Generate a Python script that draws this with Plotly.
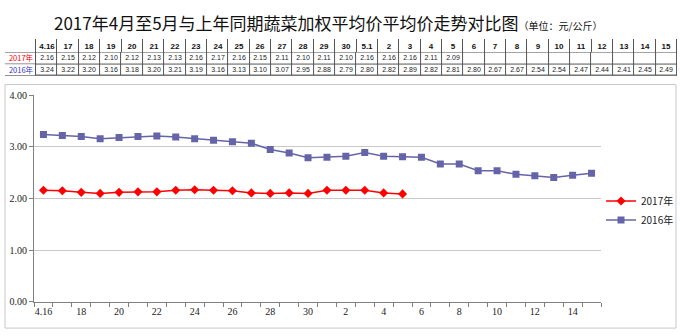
import plotly.graph_objects as go

# Trading days: 16 April to 15 May
days = ["4.16", "17", "18", "19", "20", "21", "22", "23", "24", "25", "26", "27",
        "28", "29", "30", "5.1", "2", "3", "4", "5", "6", "7", "8", "9", "10",
        "11", "12", "13", "14", "15"]

# Weighted average vegetable price (yuan/kg)
price_2017 = [2.16, 2.15, 2.12, 2.10, 2.12, 2.13, 2.13, 2.16, 2.17, 2.16, 2.15,
              2.11, 2.10, 2.11, 2.10, 2.16, 2.16, 2.16, 2.11, 2.09]
price_2016 = [3.24, 3.22, 3.20, 3.16, 3.18, 3.20, 3.21, 3.19, 3.16, 3.13, 3.10,
              3.07, 2.95, 2.88, 2.79, 2.80, 2.82, 2.89, 2.82, 2.81, 2.80, 2.67,
              2.67, 2.54, 2.54, 2.47, 2.44, 2.41, 2.45, 2.49]

# Axis labels every second day
axis_labels = ["4.16", "18", "20", "22", "24", "26", "28", "30", "2", "4", "6",
               "8", "10", "12", "14"]

series_names = ["2017年", "2016年"]

W, H = 680, 336
C17 = "#FF0000"
C16 = "#6664A8"
LABEL_COLORS = [C17, "#3333CC"]

fig = go.Figure()

# ---- data table drawn as gapped heatmap cells on its own axes ----
LABEL_W, COL_W = 31.0, 21.33
HDR_H, ROW_H = 14.0, 12.0
n = len(days)
col_edges = [LABEL_W + COL_W * i for i in range(n + 1)]
tbl_w = col_edges[-1]
tbl_h = HDR_H + 2 * ROW_H
white = [[0, "white"], [1, "white"]]
cell_style = dict(colorscale=white, zmin=0, zmax=1, showscale=False,
                  xgap=1, ygap=1, hoverinfo="skip", texttemplate="%{text}",
                  xaxis="x2", yaxis="y2")

# header row
fig.add_trace(go.Heatmap(
    x=[0.0] + col_edges, y=[2 * ROW_H, tbl_h],
    z=[[0] * (n + 1)], text=[[""] + days],
    textfont=dict(family="Arial, Liberation Sans", size=8, color="#111", weight="bold"),
    **cell_style))

# value rows (2016 at bottom, 2017 above)
val17 = [f"{v:.2f}" for v in price_2017] + [""] * (n - len(price_2017))
val16 = [f"{v:.2f}" for v in price_2016]
fig.add_trace(go.Heatmap(
    x=col_edges, y=[0.0, ROW_H, 2 * ROW_H],
    z=[[0] * n, [0] * n], text=[val16, val17],
    textfont=dict(family="Arial, Liberation Sans", size=7, color="#222"),
    **cell_style))

# row labels
for r, (name, col) in enumerate(zip(series_names, LABEL_COLORS)):
    y0 = (1 - r) * ROW_H
    fig.add_trace(go.Heatmap(
        x=[0.0, LABEL_W], y=[y0, y0 + ROW_H],
        z=[[0]], text=[[name]],
        textfont=dict(family="Noto Sans CJK SC", size=7.5, color=col),
        **cell_style))

# ---- price lines ----
xs17 = list(range(len(price_2017)))
xs16 = list(range(len(price_2016)))

fig.add_trace(go.Scatter(
    x=xs17, y=price_2017, name=series_names[0], mode="lines+markers",
    line=dict(color=C17, width=1.5),
    marker=dict(symbol="diamond", size=7, color=C17),
))
fig.add_trace(go.Scatter(
    x=xs16, y=price_2016, name=series_names[1], mode="lines+markers",
    line=dict(color=C16, width=1.5),
    marker=dict(symbol="square", size=7, color=C16),
))

tick_font = dict(family="Liberation Serif, DejaVu Serif", size=10, color="#222")

fig.update_layout(
    width=W, height=H,
    margin=dict(l=0, r=0, t=0, b=0),
    paper_bgcolor="white", plot_bgcolor="white",
    showlegend=True,
    legend=dict(x=601 / W, y=(H - 187) / H, xanchor="left", yanchor="top",
                bgcolor="rgba(0,0,0,0)",
                font=dict(family="Noto Sans CJK SC", size=10, color="#222"),
                tracegroupgap=0, itemwidth=30),
    xaxis=dict(
        domain=[34 / W, 601 / W],
        range=[-0.5, n - 0.5],
        tickvals=list(range(0, n, 2)),
        ticktext=axis_labels,
        ticks="", showgrid=False, zeroline=False,
        showline=True, linecolor="#808080", linewidth=1,
        tickfont=tick_font,
        minor=dict(tickvals=[i - 0.5 for i in range(n + 1)],
                   ticks="outside", ticklen=4, tickcolor="#808080", showgrid=False),
    ),
    yaxis=dict(
        domain=[(H - 306) / H, (H - 93) / H],
        range=[0, 4],
        tickvals=[0, 1, 2, 3, 4],
        tickformat=".2f",
        ticks="outside", ticklen=4, tickcolor="#808080",
        showgrid=True, gridcolor="#C8C8C8", gridwidth=1,
        zeroline=False, showline=True, linecolor="#808080", linewidth=1,
        tickfont=tick_font,
    ),
    xaxis2=dict(domain=[5 / W, 677 / W], range=[0, tbl_w], visible=False,
                anchor="y2", fixedrange=True),
    yaxis2=dict(domain=[(H - 73) / H, (H - 35) / H], range=[0, tbl_h], visible=False,
                anchor="x2", fixedrange=True),
    shapes=[
        # chart frame
        dict(type="rect", xref="paper", yref="paper",
             x0=5 / W, x1=676 / W, y0=(H - 333) / H, y1=(H - 82) / H,
             line=dict(color="#C8C8C8", width=1), layer="below"),
        # table grid backing (shows through cell gaps)
        dict(type="rect", xref="x2", yref="y2", x0=0, x1=tbl_w, y0=0, y1=tbl_h,
             fillcolor="#555", line=dict(color="#555", width=1), layer="below"),
    ],
    annotations=[dict(
        xref="paper", yref="paper", x=52 / W, y=(H - 18) / H,
        xanchor="left", yanchor="middle", showarrow=False,
        text="2017年4月至5月与上年同期蔬菜加权平均价平均价走势对比图"
             "<span style='font-size:10px'>（单位：元/公斤）</span>",
        font=dict(family="Noto Sans CJK SC", size=17, color="#111"),
    )],
)

fig.write_html("out.html")
